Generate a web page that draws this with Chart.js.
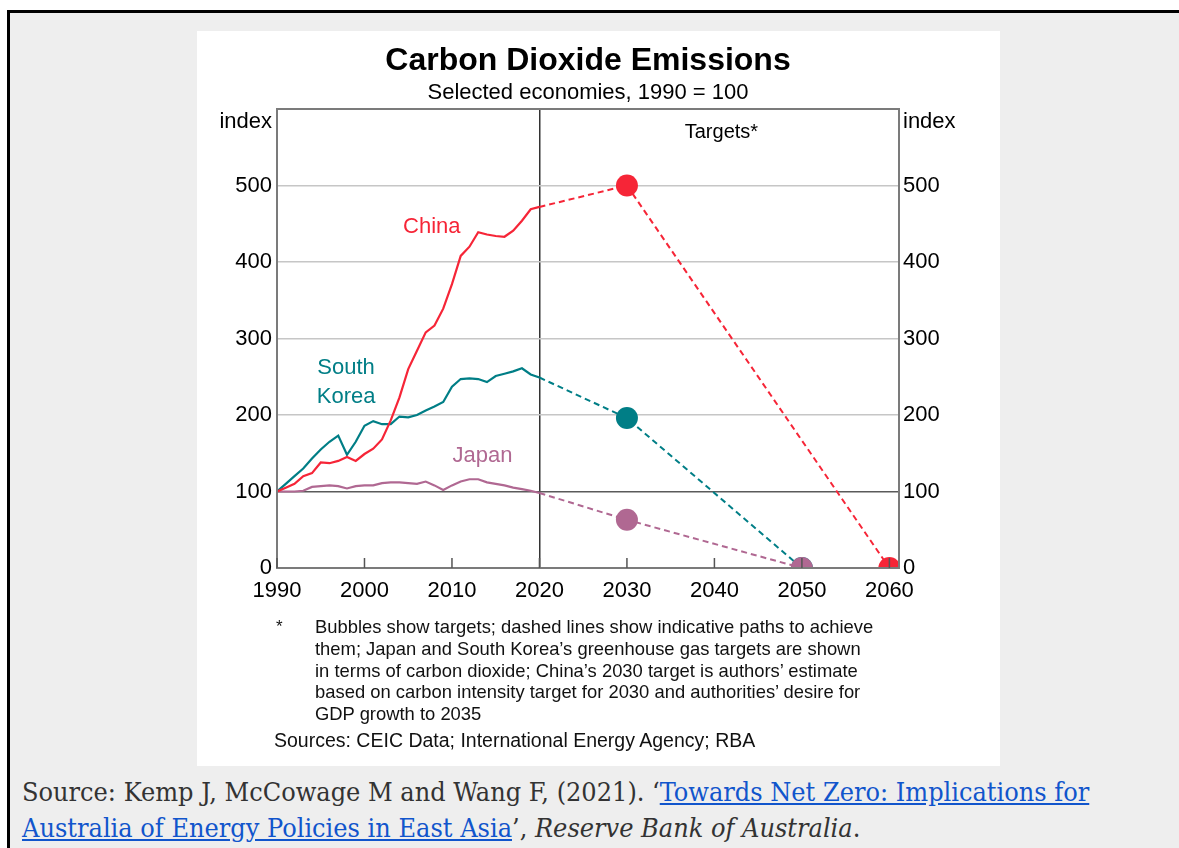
<!DOCTYPE html>
<html>
<head>
<meta charset="utf-8">
<title>Carbon Dioxide Emissions</title>
<script src="https://cdn.jsdelivr.net/npm/chart.js@4.4.1/dist/chart.umd.min.js"></script>
<style>
  html { overflow: hidden; }
  body { margin: 0; background: #fff; width: 1179px; height: 848px; overflow: hidden; position: relative; }
  #page { position: absolute; left: 7px; top: 10px; width: 1169px; height: 835px; background: #eeeeee;
          border-left: 3px solid #000; border-top: 3px solid #000; }
  #panel { position: absolute; left: 197px; top: 31px; width: 803px; height: 735px; background: #fff; }
  #chartBox { position: absolute; left: 0; top: 0; width: 803px; height: 600px; }
  .note { position: absolute; font-family: "Liberation Sans", Arial, sans-serif; line-height: 21.75px; color: #111; white-space: nowrap; }
  #star { left: 79px; top: 585px; font-size: 17px; }
  #noteText { left: 118px; top: 585px; font-size: 18.4px; }
  #sources { left: 77px; top: 699px; font-size: 19.5px; }
  #cite { position: absolute; left: 22px; top: 774px; margin: 0; font-family: "DejaVu Serif Condensed", "DejaVu Serif", serif;
          font-size: 26.8px; line-height: 36px; color: #333; white-space: nowrap; }
  #cite a { color: #1155cc; text-decoration: underline; }
</style>
</head>
<body>
<div id="page"></div>
<div id="panel">
  <div id="chartBox"><canvas id="chart" width="803" height="600"></canvas></div>
  <div class="note" id="star">*</div>
  <div class="note" id="noteText">Bubbles show targets; dashed lines show indicative paths to achieve<br>them; Japan and South Korea’s greenhouse gas targets are shown<br>in terms of carbon dioxide; China’s 2030 target is authors’ estimate<br>based on carbon intensity target for 2030 and authorities’ desire for<br>GDP growth to 2035</div>
  <div class="note" id="sources">Sources: CEIC Data; International Energy Agency; RBA</div>
</div>
<p id="cite">Source: Kemp J, McCowage M and Wang F, (2021). ‘<a href="#">Towards Net Zero: Implications for<br>Australia of Energy Policies in East Asia</a>’, <i>Reserve Bank of Australia</i>.</p>

<script>
// historical data, index 1990 = 100
const years = [1990, 1991, 1992, 1993, 1994, 1995, 1996, 1997, 1998, 1999, 2000,
    2001, 2002, 2003, 2004, 2005, 2006, 2007, 2008, 2009, 2010,
    2011, 2012, 2013, 2014, 2015, 2016, 2017, 2018, 2019, 2020];
const china = [100, 105, 110, 120, 124, 138, 137, 140, 145, 140, 149,
    156, 168, 193, 223, 260, 284, 308, 317, 339, 371,
    408, 420, 439, 436, 434, 433, 441, 454, 469, 472];
const southKorea = [100, 110, 120, 130, 143, 155, 165, 173, 148, 165, 186,
    192, 188, 188, 198, 197, 200, 206, 211, 217, 237,
    247, 248, 247, 243, 251, 254, 257, 261, 253, 249];
const japan = [100, 100, 100, 101, 106, 107, 108, 107, 104, 107, 108,
    108, 111, 112, 112, 111, 110, 113, 108, 102, 108,
    113, 116, 116, 112, 110, 108, 105, 103, 101, 98];

// targets (bubbles) and indicative paths
const chinaTargetYears = [2020, 2030, 2060];
const chinaTargets = [472, 500, 0];
const koreaTargetYears = [2020, 2030, 2050];
const koreaTargets = [249, 196, 0];
const japanTargetYears = [2020, 2030, 2050];
const japanTargets = [98, 63, 0];

// axis ticks
const xTicks = [1990, 2000, 2010, 2020, 2030, 2040, 2050, 2060];
const yTicks = [0, 100, 200, 300, 400, 500];

const RED = 'rgb(246, 37, 55)';
const TEAL = 'rgb(0, 126, 134)';
const PURPLE = 'rgb(176, 104, 146)';
const FONT = '"Liberation Sans", Arial, sans-serif';

// series labels inside the plot (anchor in data units)
const seriesLabels = [
    { text: ['China'], x: 2007.7, y: 446, color: RED },
    { text: ['South', 'Korea'], x: 1997.9, y: 262, color: TEAL },
    { text: ['Japan'], x: 2013.5, y: 146, color: PURPLE }
];

function toPoints(xs, ys) {
    return xs.map((x, i) => ({ x: x, y: ys[i] }));
}

function solidLine(data, color) {
    return {
        data: toPoints(years, data),
        borderColor: color,
        borderWidth: 2.2,
        pointRadius: 0,
        tension: 0,
        order: 1
    };
}

function targetLine(xs, ys, color, order) {
    return {
        data: toPoints(xs, ys),
        borderColor: color,
        borderWidth: 2,
        borderDash: [6, 4],
        backgroundColor: color,
        pointBackgroundColor: color,
        pointBorderWidth: 0,
        pointRadius: (ctx) => ctx.dataIndex === 0 ? 0 : 11,
        tension: 0,
        order: order
    };
}

// frame, inward ticks, titles and labels
const chartDecor = {
    id: 'chartDecor',
    afterDatasetsDraw(chart) {
        const { ctx, chartArea: a, scales } = chart;
        const x = scales.x, y = scales.y;
        ctx.save();
        ctx.strokeStyle = '#7b7b7b';
        ctx.lineWidth = 2;
        ctx.strokeRect(a.left, a.top, a.right - a.left, a.bottom - a.top);

        ctx.strokeStyle = '#555';
        ctx.lineWidth = 1.5;
        ctx.beginPath();
        xTicks.forEach((v) => {
            const px = x.getPixelForValue(v);
            ctx.moveTo(px, a.bottom);
            ctx.lineTo(px, a.bottom - 10);
        });
        ctx.stroke();

        // series labels
        ctx.font = '22px ' + FONT;
        ctx.textAlign = 'center';
        ctx.textBaseline = 'middle';
        seriesLabels.forEach((lab) => {
            ctx.fillStyle = lab.color;
            lab.text.forEach((t, i) => {
                ctx.fillText(t, x.getPixelForValue(lab.x), y.getPixelForValue(lab.y) + i * 29);
            });
        });
        ctx.restore();
    },
    afterDraw(chart) {
        const { ctx, chartArea: a } = chart;
        const cx = (a.left + a.right) / 2;
        ctx.save();
        ctx.fillStyle = '#000';
        ctx.textBaseline = 'alphabetic';
        ctx.textAlign = 'center';
        ctx.font = 'bold 32px ' + FONT;
        ctx.fillText('Carbon Dioxide Emissions', cx, 39);
        ctx.font = '22px ' + FONT;
        ctx.fillText('Selected economies, 1990 = 100', cx, 68);

        ctx.font = '20px ' + FONT;
        ctx.fillText('Targets*', chart.scales.x.getPixelForValue(2040.8), 107);

        ctx.font = '22px ' + FONT;
        ctx.textAlign = 'right';
        ctx.fillText('index', a.left - 5, 97);
        ctx.textAlign = 'left';
        ctx.fillText('index', a.right + 4, 97);
        ctx.restore();
    }
};

const yGrid = (ctx) => {
    const v = ctx.tick ? ctx.tick.value : null;
    if (v === 100) return '#5a5a5a';
    if (v === 0 || v === 600) return 'rgba(0,0,0,0)';
    return '#c6c6c6';
};

new Chart(document.getElementById('chart'), {
    type: 'line',
    data: {
        datasets: [
            solidLine(china, RED),
            solidLine(southKorea, TEAL),
            solidLine(japan, PURPLE),
            targetLine(chinaTargetYears, chinaTargets, RED, 2),
            targetLine(japanTargetYears, japanTargets, PURPLE, 3),
            targetLine(koreaTargetYears, koreaTargets, TEAL, 4)
        ]
    },
    options: {
        responsive: false,
        animation: false,
        devicePixelRatio: 1,
        layout: { padding: { top: 78, left: 0, right: 0, bottom: 0 } },
        plugins: { legend: { display: false }, tooltip: { enabled: false }, title: { display: false } },
        scales: {
            x: {
                type: 'linear',
                min: 1990,
                max: 2061.1,
                afterBuildTicks: (scale) => { scale.ticks = xTicks.map((v) => ({ value: v })); },
                afterFit: (scale) => { scale.height = 63; },
                border: { display: false },
                grid: {
                    drawTicks: false,
                    lineWidth: 1.5,
                    color: (ctx) => (ctx.tick && ctx.tick.value === 2020) ? '#333' : 'rgba(0,0,0,0)'
                },
                ticks: {
                    color: '#000', font: { size: 22, family: FONT }, padding: 10, maxRotation: 0,
                    callback: (v) => String(v)
                }
            },
            y: {
                min: 0,
                max: 600,
                afterBuildTicks: (scale) => { scale.ticks = yTicks.concat([600]).map((v) => ({ value: v })); },
                afterFit: (scale) => { scale.width = 80; },
                border: { display: false },
                grid: { drawTicks: false, lineWidth: 1.5, color: yGrid },
                ticks: {
                    color: '#000', font: { size: 22, family: FONT }, padding: 5,
                    callback: (v) => v === 600 ? '' : String(v)
                }
            },
            y2: {
                position: 'right',
                min: 0,
                max: 600,
                afterBuildTicks: (scale) => { scale.ticks = yTicks.map((v) => ({ value: v })); },
                afterFit: (scale) => { scale.width = 101; },
                border: { display: false },
                grid: { display: false, drawTicks: false },
                ticks: { color: '#000', font: { size: 22, family: FONT }, padding: 4, callback: (v) => String(v) }
            }
        }
    },
    plugins: [chartDecor]
});
</script>
</body>
</html>
